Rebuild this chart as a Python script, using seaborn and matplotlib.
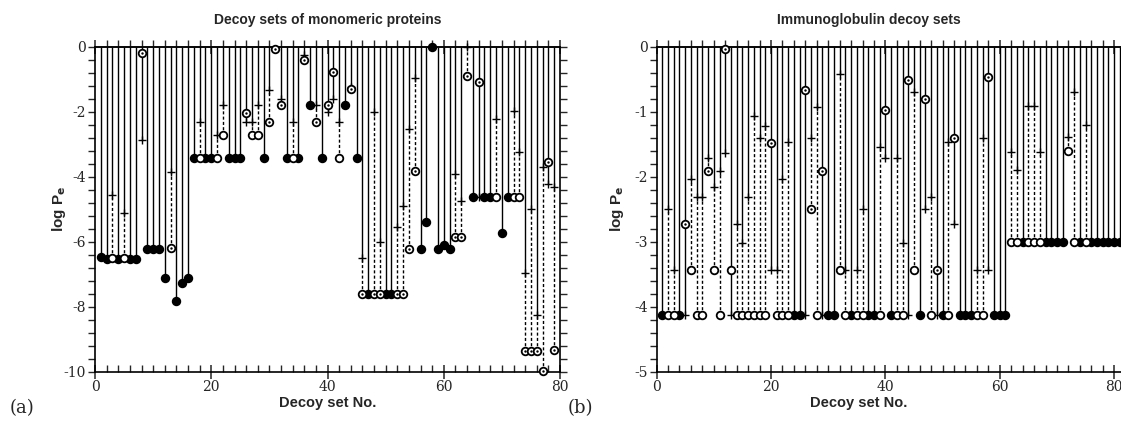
import numpy as np
import pandas as pd
import matplotlib
matplotlib.use("Agg")
import matplotlib.pyplot as plt
import seaborn as sns
from matplotlib.ticker import MultipleLocator

sns.set_theme(style="ticks")
plt.rcParams['font.family'] = ['Liberation Sans', 'DejaVu Sans']
plt.rcParams['axes.unicode_minus'] = False

# ---------------- Panel (a): monomeric proteins ----------------
a_circle = [-6.46, -6.53, -6.51, -6.53, -6.49, -6.54, -6.53, -0.18, -6.24, -6.24,
            -6.24, -7.11, -6.20, -7.82, -7.26, -7.11, -3.42, -3.42, -3.42, -3.42,
            -3.42, -2.73, -3.42, -3.42, -3.42, -2.03, -2.73, -2.73, -3.42, -2.32,
            -0.08, -1.80, -3.42, -3.42, -3.42, -0.41, -1.80, -2.32, -3.42, -1.80,
            -0.78, -3.42, -1.80, -1.31, -3.42, -7.61, -7.61, -7.61, -7.61, -7.61,
            -7.61, -7.61, -7.61, -6.23, -3.83, -6.23, -5.38, 0.00, -6.23, -6.09,
            -6.23, -5.86, -5.86, -0.91, -4.63, -1.10, -4.63, -4.63, -4.63, -5.72,
            -4.63, -4.63, -4.63, -9.36, -9.36, -9.36, -9.98, -3.54, -9.34]
a_plus = [-6.46, -6.53, -4.56, -6.53, -5.13, -6.54, -6.53, -2.87, -6.24, -6.24,
          -6.24, -7.11, -3.85, -7.82, -7.26, -7.11, -3.42, -2.31, -3.42, -3.42,
          -2.73, -1.79, -3.42, -3.42, -3.42, -2.31, -2.31, -1.79, -3.42, -1.33,
          -0.08, -1.62, -3.42, -2.31, -3.42, -0.27, -1.80, -1.80, -3.42, -2.00,
          -1.62, -2.31, -1.80, -1.23, -3.42, -6.51, -7.61, -2.00, -6.00, -7.61,
          -7.61, -5.56, -4.90, -2.54, -0.97, -6.23, -5.38, 0.00, -6.23, -6.09,
          -6.23, -3.92, -4.75, 0.00, -4.63, -4.63, -4.63, -4.63, -2.23, -5.72,
          -4.63, -1.98, -3.23, -6.95, -5.00, -8.27, -3.70, -4.24, -4.32]
a_style = list("ffofoffgff" "ffgffffoff" "oofffgoofg" "ggfofgfgfg" "gofgfgfggf"
               "fggggfffff" "fgggfgffof" "foogggggg")

# ---------------- Panel (b): immunoglobulin ----------------
b_circle = [-4.13, -4.13, -4.13, -4.13, -2.73, -3.43, -4.13, -4.13, -1.91, -3.43,
            -4.13, -0.03, -3.43, -4.13, -4.13, -4.13, -4.13, -4.13, -4.13, -1.48,
            -4.13, -4.13, -4.13, -4.13, -4.13, -0.67, -2.50, -4.13, -1.91, -4.13,
            -4.13, -3.43, -4.13, -4.13, -4.13, -4.13, -4.13, -4.13, -4.13, -0.97,
            -4.13, -4.13, -4.13, -0.52, -3.43, -4.13, -0.81, -4.13, -3.43, -4.13,
            -4.13, -1.40, -4.13, -4.13, -4.13, -4.13, -4.13, -0.47, -4.13, -4.13,
            -4.13, -3.00, -3.00, -3.00, -3.00, -3.00, -3.00, -3.00, -3.00, -3.00,
            -3.00, -1.61, -3.00, -3.00, -3.00, -3.00, -3.00, -3.00, -3.00, -3.00,
            -3.00]
b_plus = [-4.13, -2.50, -3.43, -4.13, -4.13, -2.03, -2.32, -2.32, -1.71, -2.16,
          -1.91, -1.64, -4.13, -2.73, -3.02, -2.32, -1.07, -1.40, -1.22, -3.43,
          -3.43, -2.03, -1.47, -4.13, -4.13, -4.13, -1.40, -0.93, -4.13, -4.13,
          -4.13, -0.42, -3.43, -4.13, -3.43, -2.50, -4.13, -4.13, -1.55, -1.72,
          -4.13, -1.72, -3.02, -4.13, -0.70, -4.13, -2.50, -2.32, -4.13, -4.13,
          -1.47, -2.73, -4.13, -4.13, -4.13, -3.43, -1.40, -3.43, -4.13, -4.13,
          -4.13, -1.62, -1.90, -3.00, -0.91, -0.91, -1.62, -3.00, -3.00, -3.00,
          -3.00, -1.39, -0.69, -3.00, -1.20, -3.00, -3.00, -3.00, -3.00, -3.00,
          -3.00]
b_style = list("foofgooogo" "ogooooooog" "oooffggogf" "foofooffog" "foogofgogf"
               "ogfffoogff" "foofooofff" "foofoffffff")

FACE = {'f': 'black', 'o': 'white', 'g': 'white'}
TICKFONT = ['DejaVu Serif']


def draw(ax, circ, plus, style):
    circ = np.asarray(circ, float)
    plus = np.asarray(plus, float)
    n = min(len(circ), len(plus), len(style))
    circ, plus, style = circ[:n], plus[:n], list(style[:n])
    x = np.arange(1, n + 1)
    # solid line from 0 down to the '+' value
    ax.vlines(x, plus, 0, colors='black', lw=1.0, zorder=2)
    below = circ < plus
    ax.vlines(x[below], circ[below], plus[below], colors='black', lw=1.0,
              linestyles=(0, (2.2, 1.6)), zorder=2)
    df = pd.DataFrame(dict(x=x, circ=circ, plus=plus, style=style))
    sp = df[df['plus'] != df['circ']]
    sns.scatterplot(data=sp, x='x', y='plus', marker='+', s=32, color='black',
                    linewidth=1.0, ax=ax, zorder=3, clip_on=False)
    for st in ['f', 'o', 'g']:
        sub = df[df['style'] == st]
        if len(sub) == 0:
            continue
        sns.scatterplot(data=sub, x='x', y='circ', marker='o', s=30,
                        facecolor=FACE[st], edgecolor='black', linewidth=1.3,
                        ax=ax, zorder=4, clip_on=False)
    g = df[df['style'] == 'g']
    sns.scatterplot(data=g, x='x', y='circ', marker='o', s=3, color='black',
                    linewidth=0, ax=ax, zorder=5, clip_on=False)


def style_axes(ax, xmax, ymin, ymaj, ymin_step, title, title_x, label_x):
    ax.set_xlim(0, xmax)
    ax.set_ylim(ymin, 0)
    for sp in ax.spines.values():
        sp.set_linewidth(1.2)
        sp.set_color('black')
    ax.xaxis.set_major_locator(MultipleLocator(20))
    ax.xaxis.set_minor_locator(MultipleLocator(2))
    ax.yaxis.set_major_locator(MultipleLocator(ymaj))
    ax.yaxis.set_minor_locator(MultipleLocator(ymin_step))
    ax.tick_params(axis='x', which='major', direction='inout', length=10, width=1.1,
                   bottom=True, top=False, labelsize=10, pad=1)
    ax.tick_params(axis='x', which='minor', direction='in', length=5, width=1.0,
                   bottom=True, top=False)
    ax.tick_params(axis='y', which='both', direction='out', length=5, width=1.0,
                   left=True, right=True, labelsize=10, pad=1.5)
    for lab in ax.get_xticklabels() + ax.get_yticklabels():
        lab.set_fontfamily(TICKFONT)
    top = ax.secondary_xaxis('top')
    top.xaxis.set_major_locator(MultipleLocator(20))
    top.xaxis.set_minor_locator(MultipleLocator(2))
    top.tick_params(which='major', direction='inout', length=10, width=1.1, labeltop=False)
    top.tick_params(which='minor', direction='out', length=5, width=1.0)
    top.spines['top'].set_linewidth(1.2)
    ax.set_xlabel('Decoy set No.', fontsize=10.5, fontweight='bold', va='top')
    ax.xaxis.set_label_coords(label_x, -0.074)
    ax.set_ylabel(r'log P$_\mathbf{e}$', fontsize=11, fontweight='bold', va='bottom')
    ax.set_title(title, fontsize=10, fontweight='bold', x=title_x, pad=16)


W, H = 1121, 423
fig = plt.figure(figsize=(W / 100, H / 100), dpi=100)

ax_a = fig.add_axes([95 / W, 1 - 371.7 / H, (560 - 95) / W, (371.7 - 46.7) / H])
draw(ax_a, a_circle, a_plus, a_style)
style_axes(ax_a, 80, -10, 2, 0.4, 'Decoy sets of monomeric proteins', 0.5, 0.5)
ax_a.yaxis.set_label_coords(-0.058, 0.5)

ax_b = fig.add_axes([656.6 / W, 1 - 371.7 / H, (1125.6 - 656.6) / W, (371.7 - 46.7) / H])
draw(ax_b, b_circle, b_plus, b_style)
style_axes(ax_b, 82, -5, 1, 0.2, 'Immunoglobulin decoy sets', 0.453, 0.43)
ax_b.yaxis.set_label_coords(-0.066, 0.5)

fig.text(10 / W, 1 - 408 / H, '(a)', fontsize=13, family='DejaVu Serif', va='center')
fig.text(568 / W, 1 - 408 / H, '(b)', fontsize=13, family='DejaVu Serif', va='center')

fig.savefig('out.png', dpi=100)
